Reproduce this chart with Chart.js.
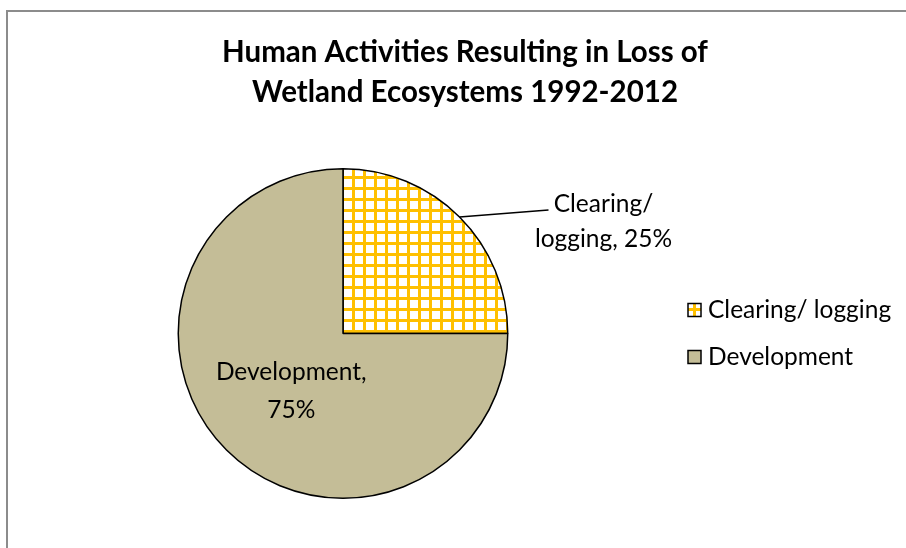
<!DOCTYPE html>
<html>
<head>
<meta charset="utf-8">
<script src="https://cdn.jsdelivr.net/npm/chart.js@4/dist/chart.umd.min.js"></script>
<style>
  html, body { margin: 0; padding: 0; background: #fff; }
  #wrap { position: relative; width: 906px; height: 548px; overflow: hidden; }
  #frame { position: absolute; left: 6px; top: 10px; width: 1000px; height: 700px; border-left: 2px solid #8c8c8c; border-top: 2px solid #8c8c8c; }
  canvas { position: absolute; left: 0; top: 0; }
</style>
</head>
<body>
<div id="wrap">
  <div id="frame"></div>
  <canvas id="myPie" width="906" height="548"></canvas>
</div>
<script>
let titleLines = ["Human Activities Resulting in Loss of", "Wetland Ecosystems 1992-2012"];
let categories = ["Clearing/ logging", "Development"];
let shares = [25, 75];
let labelLines = [["Clearing/", "logging, 25%"], ["Development,", "75%"]];

let FONT = "Lato, 'Liberation Sans', sans-serif";

// yellow grid pattern for clearing/logging
function gridPattern() {
  let c = document.createElement("canvas");
  c.width = 11; c.height = 11;
  let g = c.getContext("2d");
  g.fillStyle = "#ffffff";
  g.fillRect(0, 0, 11, 11);
  g.fillStyle = "#ffc000";
  g.fillRect(0, 0, 11, 3);
  g.fillRect(0, 0, 3, 11);
  return g.createPattern(c, "repeat");
}

let ctx = document.getElementById("myPie").getContext("2d");
let pattern = gridPattern();

let sliceLabels = {
  id: "sliceLabels",
  afterDatasetsDraw(chart) {
    let c = chart.ctx;
    let arcs = chart.getDatasetMeta(0).data;
    c.save();
    c.fillStyle = "#000";
    c.textAlign = "center";
    c.textBaseline = "middle";

    // title, centred over the whole chart box (not just the pie area)
    c.font = "bold 29.5px " + FONT;
    c.fillText(titleLines[0], 465, 52);
    c.fillText(titleLines[1], 465, 92);

    c.font = "24.5px " + FONT;
    // clearing: outside with leader line
    let a = arcs[0];
    let mid = (a.startAngle + a.endAngle) / 2;
    let px = a.x + Math.cos(mid) * a.outerRadius;
    let py = a.y + Math.sin(mid) * a.outerRadius;
    c.strokeStyle = "#000";
    c.lineWidth = 1.5;
    c.beginPath();
    c.moveTo(px, py);
    c.lineTo(px + 89, py - 7);
    c.stroke();
    c.fillText(labelLines[0][0], px + 144, py - 13);
    c.fillText(labelLines[0][1], px + 144, py + 22);
    // development: inside
    let b = arcs[1];
    let mid2 = (b.startAngle + b.endAngle) / 2;
    let lx = b.x + Math.cos(mid2) * b.outerRadius * 0.47;
    let ly = b.y + Math.sin(mid2) * b.outerRadius * 0.47;
    c.fillText(labelLines[1][0], lx + 3, ly - 16);
    c.fillText(labelLines[1][1], lx + 3, ly + 22);

    // legend, right side
    let ds = chart.data.datasets[0];
    let lgX = 688, lgY = [310, 357];
    c.textAlign = "left";
    chart.data.labels.forEach((name, i) => {
      c.fillStyle = ds.backgroundColor[i];
      c.fillRect(lgX, lgY[i] - 6.5, 13, 13);
      c.strokeStyle = "#000";
      c.lineWidth = 1.5;
      c.strokeRect(lgX, lgY[i] - 6.5, 13, 13);
      c.fillStyle = "#000";
      c.fillText(name, lgX + 20, lgY[i]);
    });
    c.restore();
  }
};

let myChart = new Chart(ctx, {
  type: "pie",
  data: {
    labels: categories,
    datasets: [
      {
        data: shares,
        backgroundColor: [pattern, "#c4bd97"],
        borderColor: "#000",
        borderWidth: 1.5,
      },
    ],
  },
  options: {
    responsive: false,
    animation: false,
    layout: { padding: { left: 10, right: 230, top: 168, bottom: 49 } },
    plugins: {
      title: { display: false },
      legend: { display: false },
      tooltip: { enabled: false },
    },
  },
  plugins: [sliceLabels],
});
</script>
</body>
</html>
